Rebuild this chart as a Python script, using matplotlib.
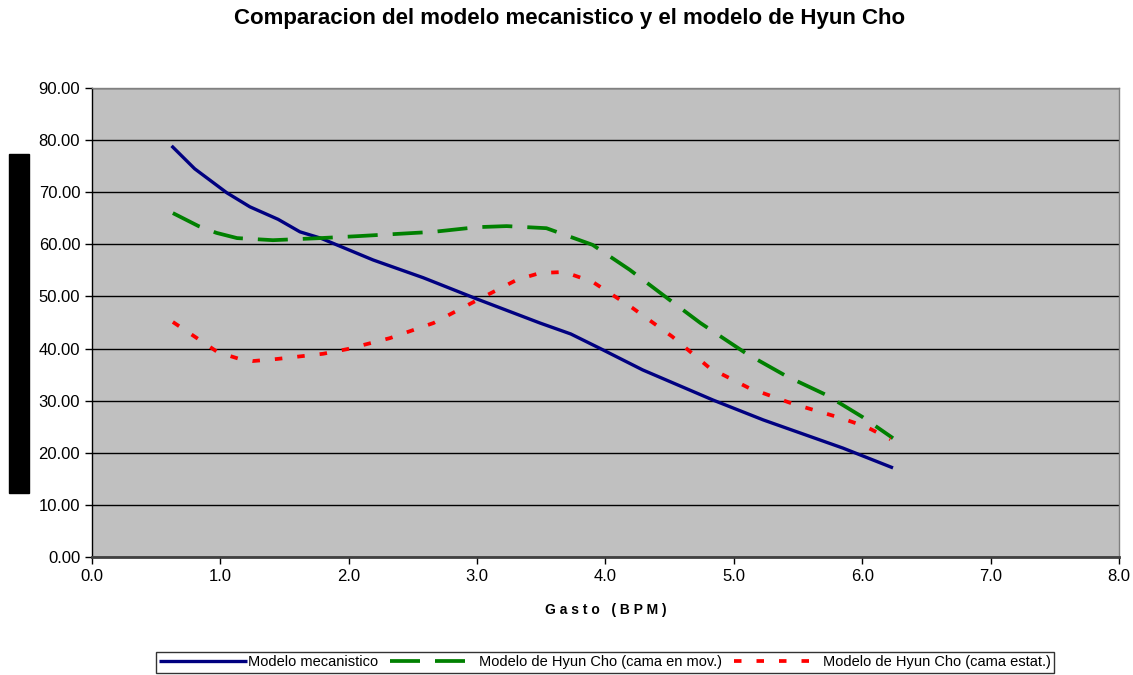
import matplotlib.pyplot as plt
import matplotlib.patches as patches

# Data
gasto_mec = [0.62, 0.80, 1.05, 1.23, 1.45, 1.62, 1.78, 2.19, 2.58, 3.00, 3.49, 3.73,
             3.96, 4.29, 4.84, 5.23, 5.85, 6.24]
modelo_mec = [78.9, 74.5, 69.9, 67.2, 64.8, 62.4, 61.2, 57.0, 53.6, 49.5, 44.9, 42.8,
              40.0, 35.9, 30.1, 26.3, 20.9, 17.1]

gasto_mov = [0.63, 0.83, 0.97, 1.13, 1.41, 1.78, 2.09, 2.66, 3.00, 3.23, 3.54, 3.90,
             4.19, 4.48, 4.74, 5.10, 5.41, 5.72, 6.00, 6.24]
hyun_mov = [66.0, 63.5, 62.2, 61.2, 60.8, 61.2, 61.6, 62.4, 63.3, 63.5, 63.1, 59.9,
            55.1, 49.7, 44.9, 39.0, 34.7, 31.1, 26.9, 22.8]

gasto_est = [0.63, 0.83, 0.98, 1.15, 1.25, 1.44, 1.80, 1.99, 2.32, 2.66, 2.97, 3.31,
             3.49, 3.68, 3.90, 4.21, 4.52, 4.81, 5.12, 5.46, 5.83, 6.03, 6.22]
hyun_est = [45.1, 41.8, 39.3, 38.0, 37.6, 38.0, 39.0, 39.9, 42.0, 44.9, 48.9, 53.2,
            54.5, 54.7, 52.8, 47.8, 42.3, 36.3, 32.4, 29.4, 26.7, 25.0, 22.6]

xticks = [0, 1, 2, 3, 4, 5, 6, 7, 8]
yticks = [0, 10, 20, 30, 40, 50, 60, 70, 80, 90]

plt.rcParams['font.family'] = ['Liberation Sans', 'DejaVu Sans']

fig = plt.figure(figsize=(11.33, 6.75), dpi=100)
ax = fig.add_axes([0.0812, 0.1748, 0.9064, 0.6948])
ax.set_facecolor('#C0C0C0')

ax.plot(gasto_mec, modelo_mec, color='#000080', lw=2.4, label='Modelo mecanistico',
        solid_capstyle='butt')
ax.plot(gasto_mov, hyun_mov, color='#008000', lw=2.7, ls=(0, (8, 4)),
        label='Modelo de Hyun Cho (cama en mov.)')
ax.plot(gasto_est, hyun_est, color='#FF0000', lw=2.7, ls=(0, (2, 4)),
        label='Modelo de Hyun Cho (cama estat.)')

ax.set_xlim(0, 8)
ax.set_ylim(0, 90)
ax.set_xticks(xticks)
ax.set_xticklabels(['%.1f' % v for v in xticks])
ax.set_yticks(yticks)
ax.set_yticklabels(['%.2f' % v for v in yticks])
ax.tick_params(labelsize=12, length=5, width=1, colors='black')
ax.grid(axis='y', color='black', lw=1)
ax.set_axisbelow(True)
for s in ax.spines.values():
    s.set_color('#808080')
    s.set_linewidth(1)
ax.spines['bottom'].set_color('#404040')
ax.spines['bottom'].set_linewidth(2)
ax.spines['left'].set_color('black')

ax.set_xlabel('G a s t o   ( B P M )', fontsize=10, fontweight='bold', labelpad=14)
fig.text(0.503, 0.972, 'Comparacion del modelo mecanistico y el modelo de Hyun Cho',
         ha='center', va='center', fontsize=16, fontweight='bold')

# redacted y-axis label
fig.add_artist(patches.Rectangle((0.0079, 0.2696), 0.0177, 0.502, color='black',
                                 transform=fig.transFigure))

leg = fig.legend(loc='center', bbox_to_anchor=(0.534, 0.019), ncol=3, fontsize=10.5,
                 frameon=True, fancybox=False, edgecolor='black', borderpad=0.25,
                 handlelength=6, handletextpad=0.1, columnspacing=0.8)
leg.get_frame().set_linewidth(1)

fig.savefig('out.png', dpi=100)
